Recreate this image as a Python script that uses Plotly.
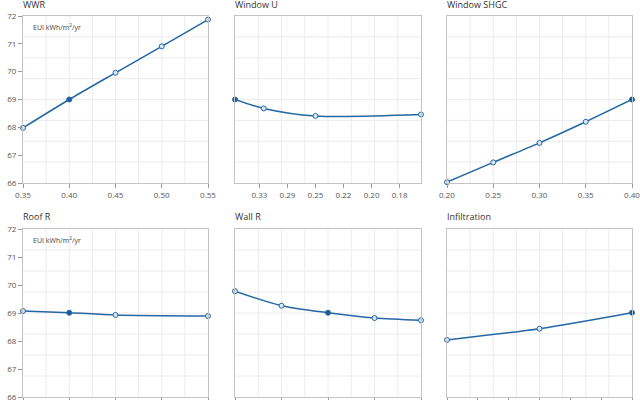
import plotly.graph_objects as go

# ---------------- data ----------------
titles = ["WWR", "Window U", "Window SHGC", "Roof R", "Wall R", "Infiltration"]

wwr_x = [0.35, 0.40, 0.45, 0.50, 0.55]
wwr_y = [67.98, 69.0, 69.96, 70.91, 71.87]
wwr_base = 1

winu_x = [0.39, 0.325, 0.25, 0.17]          # U-values (axis is drawn as 1/U)
winu_y = [69.0, 68.68, 68.41, 68.46]
winu_base = 0
winu_ticks = [3.0, 3.5, 4.0, 4.5, 5.0, 5.5]  # R = 1/U positions for ticks

shgc_x = [0.20, 0.25, 0.30, 0.35, 0.40]
shgc_y = [66.03, 66.74, 67.44, 68.20, 69.0]
shgc_base = 4

roof_x = [20, 25, 30, 40]
roof_y = [69.07, 69.01, 68.93, 68.89]
roof_base = 1

wall_x = [10, 15, 20, 25, 30]
wall_y = [69.78, 69.26, 69.01, 68.82, 68.74]
wall_base = 2

infil_x = [0.10, 0.25, 0.40]
infil_y = [68.04, 68.44, 69.01]
infil_base = 2

y_ticks = [66, 67, 68, 69, 70, 71, 72]

# ---------------- styling ----------------
LINE = "#2467a4"
OPEN_FILL = "#d8e8f6"
BASE_FILL = "#1d5c98"
BORDER = "#c4c4c4"
GRID = "#ececec"
FONT = "Open Sans"

xdom = [(23/640, 208/640), (235/640, 421/640), (447/640, 632/640)]
ydom = [((400-183)/400, (400-16)/400), ((400-397)/400, (400-229)/400)]
title_y = [(400-5)/400, (400-216)/400]

fig = go.Figure()

panels = [
    (wwr_x, wwr_y, wwr_base),
    ([1/u for u in winu_x], winu_y, winu_base),
    (shgc_x, shgc_y, shgc_base),
    (roof_x, roof_y, roof_base),
    (wall_x, wall_y, wall_base),
    (infil_x, infil_y, infil_base),
]

for i, (xs, ys, base) in enumerate(panels):
    ax = "" if i == 0 else str(i + 1)
    fills = [BASE_FILL if k == base else OPEN_FILL for k in range(len(xs))]
    fig.add_trace(go.Scatter(
        x=xs, y=ys, mode="lines+markers",
        line=dict(color=LINE, width=1.5, shape="spline", smoothing=0.8),
        marker=dict(size=5, color=fills, line=dict(color=LINE, width=1)),
        xaxis="x" + ax, yaxis="y" + ax, showlegend=False, hoverinfo="skip",
        cliponaxis=False,
    ))

layout = dict(
    width=640, height=400,
    margin=dict(l=0, r=0, t=0, b=0),
    paper_bgcolor="white", plot_bgcolor="white",
    font=dict(family=FONT, size=8, color="#555"),
    showlegend=False,
)

x_specs = [
    dict(range=[0.35, 0.55], tickvals=wwr_x, ticktext=[f"{v:.2f}" for v in wwr_x]),
    dict(range=[1/winu_x[0], 1/winu_x[-1]], tickvals=winu_ticks,
         ticktext=[f"{1/r:.2f}" for r in winu_ticks]),
    dict(range=[0.20, 0.40], tickvals=shgc_x, ticktext=[f"{v:.2f}" for v in shgc_x]),
    dict(range=[20, 40], tickvals=[20, 25, 30, 35, 40]),
    dict(range=[10, 30], tickvals=wall_x),
    dict(range=[0.10, 0.40], tickvals=[0.10, 0.15, 0.20, 0.25, 0.30, 0.35, 0.40]),
]

shapes = []
annotations = []
for i in range(6):
    r, c = divmod(i, 3)
    ax = "" if i == 0 else str(i + 1)
    xa = dict(domain=list(xdom[c]), anchor="y" + ax, showgrid=False, zeroline=False,
              showline=True, mirror=True, linecolor=BORDER, linewidth=1,
              ticks="outside", ticklen=4, tickcolor="#999", automargin=False,
              tickfont=dict(size=8, color="#555"), tickmode="array",
              ticklabeloverflow="allow")
    xa.update(x_specs[i])
    ya = dict(domain=list(ydom[r]), anchor="x" + ax, range=[66, 72], tickvals=y_ticks,
              showgrid=False, zeroline=False, showline=True, mirror=True,
              linecolor=BORDER, linewidth=1, automargin=False,
              tickfont=dict(size=8, color="#555"), ticklabeloverflow="allow")
    if c == 0:
        ya.update(ticks="outside", ticklen=4, tickcolor="#999", showticklabels=True)
    else:
        ya.update(ticks="", showticklabels=False)
    layout["xaxis" + ax] = xa
    layout["yaxis" + ax] = ya

    for k in range(1, 8):
        f = k / 8
        shapes.append(dict(type="line", xref=f"x{ax} domain", yref=f"y{ax} domain",
                           x0=f, x1=f, y0=0, y1=1, line=dict(color=GRID, width=1),
                           layer="below"))
        shapes.append(dict(type="line", xref=f"x{ax} domain", yref=f"y{ax} domain",
                           x0=0, x1=1, y0=f, y1=f, line=dict(color=GRID, width=1),
                           layer="below"))

    annotations.append(dict(text=titles[i], xref="paper", yref="paper",
                            x=xdom[c][0] - 2/640, y=title_y[r],
                            xanchor="left", yanchor="middle", showarrow=False,
                            font=dict(size=9, color="#333", family=FONT)))
    if c == 0:
        annotations.append(dict(text="EUI kWh/m<sup>2</sup>/yr", xref="paper", yref="paper",
                                x=31/640, y=ydom[r][1] - 11/400,
                                xanchor="left", yanchor="middle", showarrow=False,
                                font=dict(size=7, color="#444", family=FONT)))

layout["shapes"] = shapes
layout["annotations"] = annotations
fig.update_layout(**layout)
fig.write_html("out.html")
